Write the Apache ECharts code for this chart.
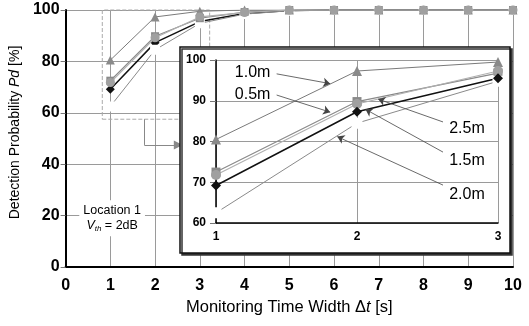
<!DOCTYPE html>
<html>
<head>
<meta charset="utf-8">
<script src="https://cdn.jsdelivr.net/npm/echarts@6/dist/echarts.min.js"></script>
<style>
html, body { margin: 0; padding: 0; background: #fff; }
#chart { width: 529px; height: 326px; }
</style>
</head>
<body>
<div id="chart"></div>
<script>
// monitoring time width [s]
const timeWidth = [1, 2, 3, 4, 5, 6, 7, 8, 9, 10];
// detection probability [%] per distance
const pd05 = [72.5, 89.8, 96.8, 99.2, 100, 100, 100, 100, 100, 100];
const pd10 = [80.5, 97.3, 99.5, 100, 100, 100, 100, 100, 100, 100];
const pd15 = [69.2, 87.3, 95.5, 98.6, 99.8, 100, 100, 100, 100, 100];
const pd20 = [62.5, 84.5, 94.8, 98.4, 99.7, 100, 100, 100, 100, 100];
const pd25 = [71.8, 89.2, 97.3, 99.0, 100, 100, 100, 100, 100, 100];
const insetCount = 3; // inset shows 1..3 s

// inset labels: text position, arrow start, arrow tip (inset data units)
const insetNotes = [
    { text: '1.0m', at: [1.26, 96.8], from: [1.43, 96.6], tip: [1.81, 94.2] },
    { text: '0.5m', at: [1.26, 91.6], from: [1.43, 91.4], tip: [1.81, 87.2] },
    { text: '2.5m', at: [2.78, 83.1], from: [2.61, 84.8], tip: [2.15, 90.4] },
    { text: '1.5m', at: [2.78, 75.2], from: [2.61, 77.4], tip: [2.06, 87.9] },
    { text: '2.0m', at: [2.78, 67.0], from: [2.61, 69.3], tip: [1.86, 81.2] },
];
// zoom box in main chart and its connector (main data units)
const zoomBox = [[0.82, 57.5], [3.22, 100]];
const connector = [[1.76, 57.5], [1.76, 47.5], [2.52, 47.5]];

const font = 'Liberation Sans, Arial, sans-serif';

const seriesDefs = {
    '0.5m': { data: pd05, color: '#8a8a8a', line: '#8a8a8a', symbol: 'rect', size: 8, width: 1.2 },
    '1.0m': { data: pd10, color: '#8a8a8a', line: '#7a7a7a', symbol: 'triangle', size: 9, width: 1 },
    '1.5m': { data: pd15, color: '#111', line: '#111', symbol: 'diamond', size: 9, width: 1.5 },
    '2.0m': { data: pd20, color: '#ffffff', line: '#8a8a8a', symbol: 'emptyRect', size: 8, width: 1, border: '#c8c8c8' },
    '2.5m': { data: pd25, color: '#a0a0a0', line: '#b0b0b0', symbol: 'circle', size: 9, width: 1.2 },
};

function makeSeries(name, axis, count, z, extra) {
    const s = seriesDefs[name];
    return {
        name: axis ? name + ' (inset)' : name,
        type: 'line',
        xAxisIndex: axis,
        yAxisIndex: axis,
        data: timeWidth.slice(0, count).map((t, i) => [t, s.data[i]]),
        symbol: s.symbol,
        symbolSize: s.size + extra,
        itemStyle: { color: s.color, borderColor: s.border || s.color, borderWidth: s.border ? 1.2 : 0 },
        lineStyle: { color: s.line, width: s.width },
        z: z,
        animation: false,
    };
}

const chart = echarts.init(document.getElementById('chart'));

const mainSeries = ['1.5m', '2.0m', '1.0m', '0.5m', '2.5m'].map((n, i) => makeSeries(n, 0, timeWidth.length, 2 + i * 0.1, 0));
const insetSeries = ['0.5m', '1.0m', '2.5m', '2.0m', '1.5m'].map(n => makeSeries(n, 1, insetCount, 12, 1));

// annotations on the inset
insetSeries[4].markLine = {
    silent: true,
    z: 13,
    symbol: ['none', 'arrow'],
    symbolSize: 7,
    label: { show: false },
    lineStyle: { color: '#444', width: 0.8, type: 'solid' },
    data: insetNotes.map(n => [{ coord: n.from }, { coord: n.tip }]),
};
insetSeries[4].markPoint = {
    silent: true,
    z: 13,
    symbol: 'rect',
    symbolSize: 1,
    itemStyle: { color: 'rgba(0,0,0,0)' },
    label: { show: true, position: 'inside', color: '#000', fontSize: 16, fontFamily: font, formatter: p => p.name },
    data: insetNotes.map(n => ({ name: n.text, coord: n.at })),
};

// zoom box, connector and location note on the main chart
mainSeries[0].markArea = {
    silent: true,
    itemStyle: { color: 'rgba(0,0,0,0)', borderColor: '#aaa', borderWidth: 1, borderType: 'dashed' },
    data: [[{ coord: zoomBox[0] }, { coord: zoomBox[1] }]],
};
mainSeries[0].markLine = {
    silent: true,
    symbol: ['none', 'none'],
    label: { show: false },
    lineStyle: { color: '#888', width: 1, type: 'solid' },
    data: [
        [{ coord: connector[0] }, { coord: connector[1] }],
        [{ coord: connector[1], symbol: 'none' }, { coord: connector[2], symbol: 'triangle', symbolSize: 9 }],
    ],
};
mainSeries[0].markPoint = {
    silent: true,
    symbol: 'rect',
    symbolSize: 1,
    itemStyle: { color: 'rgba(0,0,0,0)' },
    label: {
        show: true,
        position: 'inside',
        backgroundColor: '#fff',
        padding: [3, 4],
        lineHeight: 15,
        fontFamily: font,
        formatter: '{a|Location 1}\n{v|V}{s|th}{a| = 2dB}',
        rich: {
            a: { fontSize: 12.5, color: '#000', fontFamily: font },
            v: { fontSize: 12.5, color: '#000', fontStyle: 'italic', fontFamily: font },
            s: { fontSize: 8, color: '#000', fontStyle: 'italic', fontFamily: font, padding: [6, 0, 0, 0] },
        },
    },
    data: [{ coord: [1.04, 19] }],
};

const option = {
    backgroundColor: '#fff',
    animation: false,
    textStyle: { fontFamily: font },
    grid: [
        { left: 63, right: 16, top: 10, bottom: 59 },
        { left: 216, right: 31, top: 60, bottom: 103 },
    ],
    graphic: [
        {
            type: 'rect',
            z: 10,
            silent: true,
            shape: { x: 180, y: 47, width: 330, height: 206 },
            style: { fill: '#fff', stroke: '#111', lineWidth: 1.5, shadowColor: '#333', shadowOffsetX: 2, shadowOffsetY: 2, shadowBlur: 0 },
        },
    ],
    xAxis: [
        {
            type: 'value', gridIndex: 0, min: 0, max: 10, interval: 1,
            axisLine: { lineStyle: { color: '#000', width: 2 } },
            axisTick: { show: false },
            axisLabel: { fontSize: 16, color: '#000', margin: 11, fontWeight: 'bold' },
            splitLine: { lineStyle: { color: '#9a9a9a', width: 1 } },
            name: '{a|Monitoring Time Width Δ}{i|t}{a| [s]}',
            nameLocation: 'middle',
            nameGap: 28,
            nameTextStyle: {
                rich: {
                    a: { fontSize: 16.5, color: '#000', fontFamily: font },
                    i: { fontSize: 16.5, color: '#000', fontStyle: 'italic', fontFamily: font },
                },
            },
        },
        {
            type: 'value', gridIndex: 1, min: 1, max: 3, interval: 1, z: 11,
            axisLine: { lineStyle: { color: '#000', width: 1.5 } },
            axisTick: { show: false },
            axisLabel: { fontSize: 12, color: '#000', margin: 8, fontWeight: 'bold' },
            splitLine: { lineStyle: { color: '#9a9a9a', width: 1 } },
        },
    ],
    yAxis: [
        {
            type: 'value', gridIndex: 0, min: 0, max: 100, interval: 20,
            axisLine: { show: true, lineStyle: { color: '#000', width: 2 } },
            axisTick: { show: true, length: 5, lineStyle: { color: '#777' } },
            axisLabel: { fontSize: 16, color: '#000', margin: 6, fontWeight: 'bold' },
            splitLine: { lineStyle: { color: '#9a9a9a', width: 1 } },
            name: '{a|Detection Probability }{i|Pd}{a| [%]}',
            nameLocation: 'middle',
            nameGap: 29,
            nameTextStyle: {
                padding: [0, 0, 0, 12],
                rich: {
                    a: { fontSize: 14, color: '#000', fontFamily: font },
                    i: { fontSize: 14, color: '#000', fontStyle: 'italic', fontFamily: font },
                },
            },
        },
        {
            type: 'value', gridIndex: 1, min: 60, max: 100, interval: 10, z: 11,
            axisLine: { show: true, lineStyle: { color: '#000', width: 1.5 } },
            axisTick: { show: true, length: 6, lineStyle: { color: '#777' } },
            axisLabel: { fontSize: 12, color: '#000', margin: 10, fontWeight: 'bold' },
            splitLine: { lineStyle: { color: '#9a9a9a', width: 1 } },
        },
    ],
    series: mainSeries.concat(insetSeries),
};

chart.setOption(option);
</script>
</body>
</html>
